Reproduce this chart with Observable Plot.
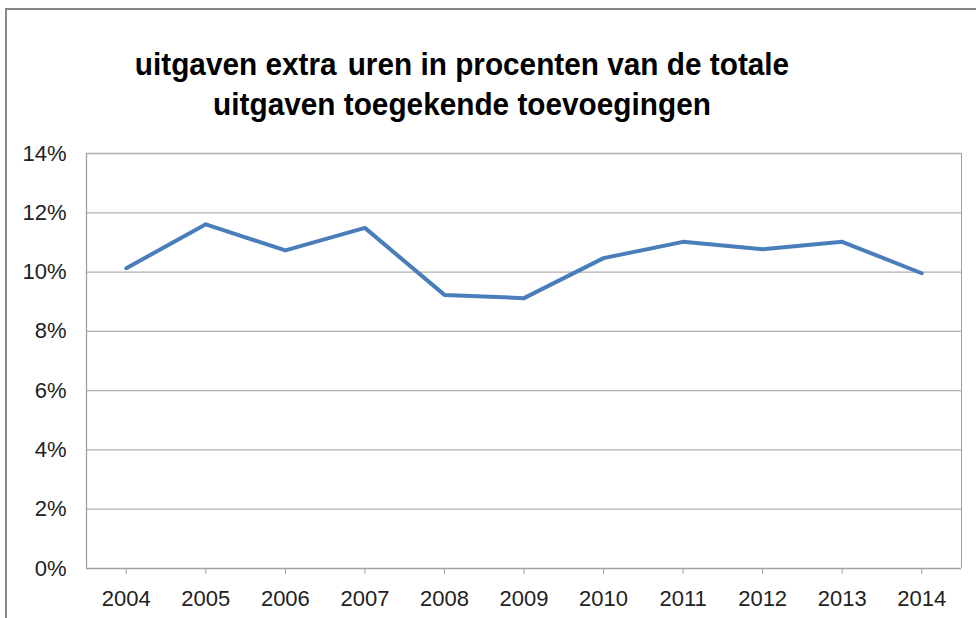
<!DOCTYPE html>
<html>
<head>
<meta charset="utf-8">
<script src="https://cdn.jsdelivr.net/npm/d3@7"></script>
<script src="https://cdn.jsdelivr.net/npm/@observablehq/plot@0.6"></script>
<style>
  html, body { margin: 0; padding: 0; background: #fff; }
  #wrap { position: relative; width: 976px; height: 618px; overflow: hidden; background: #fff; }
  #border { position: absolute; left: 5px; top: 8px; width: 1000px; height: 700px;
            border-left: 2px solid #888; border-top: 2px solid #888; box-sizing: border-box; }
  #title { position: absolute; left: 0; top: 44px; width: 924px; text-align: center;
           font-family: "Liberation Sans", sans-serif; font-weight: bold;
           font-size: 32px; line-height: 40px; color: #000;
           transform: scaleX(0.93); transform-origin: 462px 0; }
  #chart { position: absolute; left: 0; top: 130px; }
</style>
</head>
<body>
<div id="wrap">
  <div id="border"></div>
  <div id="title">uitgaven extra <span style="margin-left:3px">uren</span> in procenten van de totale<br>uitgaven toegekende toevoegingen</div>
  <div id="chart"></div>
</div>
<script>
const years = [2004, 2005, 2006, 2007, 2008, 2009, 2010, 2011, 2012, 2013, 2014];
const values = [10.13, 11.61, 10.73, 11.49, 9.23, 9.12, 10.47, 11.02, 10.77, 11.02, 9.96];
const yTicks = [0, 2, 4, 6, 8, 10, 12, 14];

const data = years.map((y, i) => ({year: y, value: values[i]}));
const font = '"Liberation Sans", sans-serif';

const plot = Plot.plot({
  width: 976,
  height: 488,
  marginTop: 23,
  marginBottom: 50,
  marginLeft: 86,
  marginRight: 15,
  style: {fontFamily: font, fontSize: "22px", color: "#222", background: "transparent"},
  x: {domain: [years[0] - 0.5, years[years.length - 1] + 0.5]},
  y: {domain: [0, 14]},
  marks: [
    Plot.ruleY(yTicks.slice(1), {stroke: "#b0b0b0", strokeWidth: 1.3, strokeOpacity: 1}),
    Plot.ruleX([years[0] - 0.5], {stroke: "#a0a0a0", strokeWidth: 1.3, strokeOpacity: 1}),
    Plot.ruleY([0], {stroke: "#a0a0a0", strokeWidth: 1.3, strokeOpacity: 1}),
    Plot.axisY({ticks: yTicks, tickFormat: d => d + "%", tickSize: 0, tickPadding: 20, label: null, fontSize: 22}),
    Plot.axisX({ticks: years, tickFormat: d => String(d), tickSize: 6, tickPadding: 16, label: null, stroke: "#a0a0a0", strokeOpacity: 1, fontSize: 22}),
    Plot.tickX([years[years.length - 1] + 0.5], {y1: 0, y2: 0, stroke: "#a0a0a0"}),
    Plot.line(data, {x: "year", y: "value", stroke: "#4a7ebb", strokeWidth: 4, strokeLinejoin: "round", strokeLinecap: "round"})
  ]
});
document.getElementById("chart").appendChild(plot);
</script>
</body>
</html>
